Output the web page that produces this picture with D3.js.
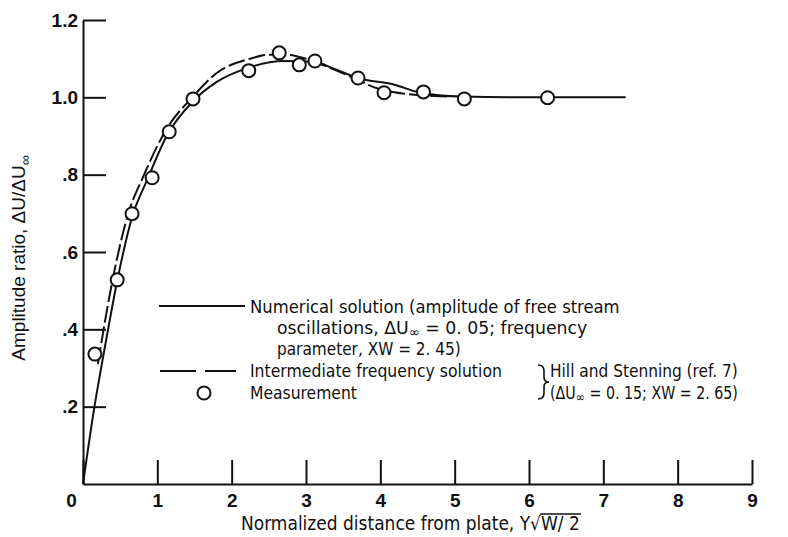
<!DOCTYPE html>
<html>
<head>
<meta charset="utf-8">
<script src="https://cdn.jsdelivr.net/npm/d3@7"></script>
<style>
  body { margin: 0; background: #fff; }
  svg { font-family: 'Liberation Sans Narrow', 'DejaVu Sans Condensed', sans-serif; }
</style>
</head>
<body>
<svg id="chart" width="788" height="537"></svg>
<script>
// axis ticks
const xTicks = [0, 1, 2, 3, 4, 5, 6, 7, 8, 9]
const yTicks = [0.2, 0.4, 0.6, 0.8, 1.0, 1.2]
const yTickLabels = ['.2', '.4', '.6', '.8', '1.0', '1.2']

// numerical solution (solid)
const numX = [0, 0.15, 0.3, 0.46, 0.66, 0.86, 1.14, 1.48, 1.8, 2.2, 2.7, 3.1, 3.4, 3.7, 4.2, 4.5, 5.1, 6.0, 7.3]
const numY = [0, 0.195, 0.36, 0.525, 0.69, 0.785, 0.905, 0.99, 1.04, 1.075, 1.094, 1.092, 1.072, 1.05, 1.032, 1.014, 1.002, 1.0, 1.0]

// intermediate frequency solution (dashed)
const interX = [0.2, 0.39, 0.61, 0.81, 1.13, 1.47, 1.8, 2.25, 2.5, 2.75, 3.0, 3.3, 3.7, 3.9, 4.3, 4.9]
const interY = [0.31, 0.52, 0.70, 0.795, 0.92, 1.0, 1.063, 1.10, 1.11, 1.11, 1.10, 1.078, 1.045, 1.027, 1.01, 1.002]

// measurements (circles)
const measX = [0.16, 0.46, 0.66, 0.93, 1.16, 1.48, 2.23, 2.64, 2.91, 3.12, 3.70, 4.05, 4.58, 5.13, 6.25]
const measY = [0.336, 0.528, 0.699, 0.792, 0.911, 0.996, 1.069, 1.115, 1.084, 1.094, 1.050, 1.012, 1.014, 0.996, 0.999]

const svg = d3.select('#chart')

const x = d3.scaleLinear().domain([0, 9]).range([83, 752])
const y = d3.scaleLinear().domain([0, 1.2]).range([484, 20])

const ink = '#111'

// squeeze a text horizontally so it spans the width seen in the scan
const fitWidth = (sel, x0, target) => {
  const w = sel.node().getBBox().width
  const k = target / w
  sel.attr('transform', `translate(${x0}, 0) scale(${k}, 1) translate(${-x0}, 0)`)
}

// x axis, ticks pointing up
const xAxis = svg.append('g')
  .attr('transform', `translate(0, ${y(0)})`)
  .call(d3.axisBottom(x).tickValues(xTicks).tickSizeInner(-24).tickSizeOuter(0).tickPadding(10))

xAxis.selectAll('text').filter(d => d === 0).attr('dx', -12)

// y axis, ticks pointing right
const yAxis = svg.append('g')
  .attr('transform', `translate(${x(0)}, 0)`)
  .call(d3.axisLeft(y).tickValues(yTicks).tickSizeInner(-23).tickSizeOuter(0).tickPadding(5)
    .tickFormat((d, i) => yTickLabels[i]))

svg.selectAll('.domain, .tick line')
  .attr('stroke', ink)
  .attr('stroke-width', 2)

svg.selectAll('.tick text')
  .attr('fill', ink)
  .style('font-size', '19px')
  .style('font-weight', 'bold')
  .style('font-family', null)

const line = d3.line()
  .x(d => x(d[0]))
  .y(d => y(d[1]))
  .curve(d3.curveMonotoneX)

svg.append('path')
  .datum(numX.map((v, i) => [v, numY[i]]))
  .attr('d', line)
  .attr('fill', 'none')
  .attr('stroke', ink)
  .attr('stroke-width', 2)

svg.append('path')
  .datum(interX.map((v, i) => [v, interY[i]]))
  .attr('d', line)
  .attr('fill', 'none')
  .attr('stroke', ink)
  .attr('stroke-width', 2)
  .attr('stroke-dasharray', '17,4')

svg.selectAll('circle.meas')
  .data(measX.map((v, i) => [v, measY[i]]))
  .enter()
  .append('circle')
  .attr('class', 'meas')
  .attr('cx', d => x(d[0]))
  .attr('cy', d => y(d[1]))
  .attr('r', 6.5)
  .attr('fill', '#fff')
  .attr('stroke', ink)
  .attr('stroke-width', 2)

// legend
const legend = svg.append('g')
  .style('font-size', '18px')
  .attr('fill', ink)

legend.append('line')
  .attr('x1', 159).attr('x2', 245).attr('y1', 306).attr('y2', 306)
  .attr('stroke', ink).attr('stroke-width', 2)

legend.append('line')
  .attr('x1', 160).attr('x2', 236).attr('y1', 371).attr('y2', 371)
  .attr('stroke', ink).attr('stroke-width', 2)
  .attr('stroke-dasharray', '36,9')

legend.append('circle')
  .attr('cx', 204).attr('cy', 393).attr('r', 6.5)
  .attr('fill', '#fff').attr('stroke', ink).attr('stroke-width', 2)

const l1 = legend.append('text').attr('x', 250).attr('y', 313)
  .text('Numerical solution (amplitude of free stream')
fitWidth(l1, 250, 370)

const l2 = legend.append('text').attr('x', 277).attr('y', 334)
l2.append('tspan').text('oscillations,  \u0394U')
l2.append('tspan').attr('dy', 3).style('font-size', '14px').text('\u221e')
l2.append('tspan').attr('dy', -3).text(' = 0. 05;  frequency')
fitWidth(l2, 277, 311)

const l3 = legend.append('text').attr('x', 277).attr('y', 355)
  .text('parameter,  XW = 2. 45)')
fitWidth(l3, 277, 184)

const l4 = legend.append('text').attr('x', 250).attr('y', 377)
  .text('Intermediate frequency solution')
fitWidth(l4, 250, 252)

const l5 = legend.append('text').attr('x', 250).attr('y', 399)
  .text('Measurement')
fitWidth(l5, 250, 107)

legend.append('path')
  .attr('d', 'M538,365 Q544,365 544,371 L544,377 Q544,382 549,382 Q544,382 544,387 L544,393 Q544,399 538,399')
  .attr('fill', 'none').attr('stroke', ink).attr('stroke-width', 1.6)

const r1 = legend.append('text').attr('x', 550).attr('y', 377)
  .text('Hill and Stenning (ref. 7)')
fitWidth(r1, 550, 188)

const r2 = legend.append('text').attr('x', 550).attr('y', 399)
r2.append('tspan').text('(\u0394U')
r2.append('tspan').attr('dy', 3).style('font-size', '14px').text('\u221e')
r2.append('tspan').attr('dy', -3).text(' = 0. 15;  XW = 2. 65)')
fitWidth(r2, 550, 188)

// axis titles
const xTitle = svg.append('text')
  .attr('x', 241).attr('y', 530)
  .style('font-size', '19px')
  .attr('fill', ink)
xTitle.append('tspan').text('Normalized distance from plate,  Y\u221a')
xTitle.append('tspan').attr('class', 'rad').text('W/ 2')
fitWidth(xTitle, 241, 339)

const xBox = xTitle.node().getBBox()
const radLen = xTitle.select('.rad').node().getComputedTextLength()
const k = 339 / xBox.width
svg.append('line')
  .attr('x1', 241 + (xBox.width - radLen) * k - 1).attr('x2', 241 + xBox.width * k + 1)
  .attr('y1', xBox.y + 2).attr('y2', xBox.y + 2)
  .attr('stroke', ink).attr('stroke-width', 1.5)

const yTitle = svg.append('text')
  .attr('transform', 'translate(25, 258) rotate(-90)')
  .attr('text-anchor', 'middle')
  .style('font-family', "'Liberation Sans', Arial, sans-serif")
  .style('font-size', '19px')
  .attr('fill', ink)
yTitle.append('tspan').text('Amplitude ratio,  \u0394U/\u0394U')
yTitle.append('tspan').attr('dy', 5).style('font-size', '14px').text('\u221e')
</script>
</body>
</html>
